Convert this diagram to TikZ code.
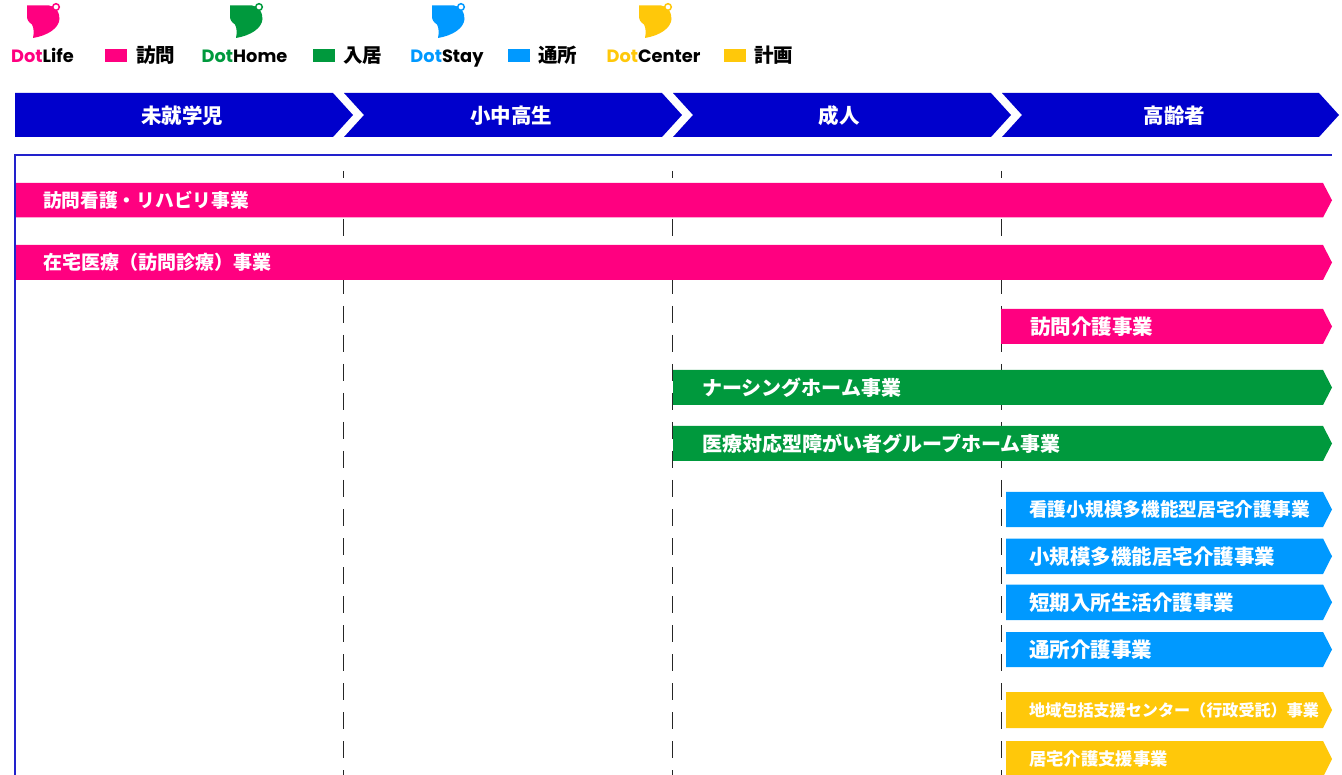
\documentclass[tikz,border=0pt]{standalone}
\usepackage{fontspec}
\setmainfont{Noto Sans CJK JP}
\newfontfamily\dotfont{Poppins}
\definecolor{pinkc}{HTML}{FF0080}
\definecolor{greenc}{HTML}{00993D}
\definecolor{bluec}{HTML}{0099FF}
\definecolor{yellowc}{HTML}{FFC80A}
\definecolor{navyc}{HTML}{0000CC}
\definecolor{boxc}{HTML}{2222CC}
\tikzset{
  bartext/.style={anchor=west, inner sep=0pt, text=white},
  headtext/.style={text=white, inner sep=0pt, font=\bfseries\fontsize{20.5}{20.5}\selectfont},
  guide/.style={draw=black!85, line width=1.3pt, dash pattern=on 17pt off 12pt, dash phase=10pt},
  legtext/.style={anchor=west, inner sep=0pt, font=\bfseries\fontsize{19.5}{19.5}\selectfont},
  wordmark/.style={anchor=base, inner sep=0pt, font=\dotfont\bfseries\fontsize{17.8}{17.8}\selectfont},
  boxline/.style={draw=boxc, line width=1.5pt},
}
\newcommand\svcbar[8]{% name, x0, ytop, ybot, colour, textx, size, text
  \fill[#5] (#2,#3) -- (1323,#3) -- (1332,{(#3+#4)/2}) -- (1323,#4) -- (#2,#4) -- cycle;
  \node[bartext, font=\bfseries\fontsize{#7}{#7}\selectfont] (#1) at (#6,{(#3+#4)/2}) {#8};
}
\newcommand\dotlogo[2]{% shift, colour
  \begin{scope}[shift={(#1,0)}]
    \fill[#2] (27,5.5) -- (49,5.5) .. controls (56,6) and (59.5,12) .. (59.5,19)
      .. controls (59,28) and (48,35.5) .. (33,38)
      .. controls (34,33) and (34,28) .. (32,24.5)
      .. controls (28.5,22) and (27,20) .. (27,16) -- cycle;
    \draw[#2, line width=1.5pt, fill=white] (56,7) circle (3.3);
  \end{scope}
}
\begin{document}
\begin{tikzpicture}[x=1pt,y=-1pt]
\useasboundingbox (0,0) rectangle (1342,775);
\fill[white] (0,0) rectangle (1342,775);

% legend
\dotlogo{0}{pinkc}
\dotlogo{203}{greenc}
\dotlogo{405}{bluec}
\dotlogo{612}{yellowc}
\node[wordmark] (wlife) at (42.5,63) {\textcolor{pinkc}{Dot}Life};
\node[wordmark] (whome) at (244.5,63) {\textcolor{greenc}{Dot}Home};
\node[wordmark] (wstay) at (447,63) {\textcolor{bluec}{Dot}Stay};
\node[wordmark] (wcenter) at (653.5,63) {\textcolor{yellowc}{Dot}Center};
\fill[pinkc] (105,49) rectangle (127,62.5);
\fill[greenc] (313,49) rectangle (335,62.5);
\fill[bluec] (508,49) rectangle (530,62.5);
\fill[yellowc] (724,49) rectangle (746,62.5);
\node[legtext] (l1) at (136,55.5) {訪問};
\node[legtext] (l2) at (343,55.5) {入居};
\node[legtext] (l3) at (538,55.5) {通所};
\node[legtext] (l4) at (754,55.5) {計画};

% header chevrons
\fill[navyc] (15,93) -- (333,93) -- (353,115) -- (333,137) -- (15,137) -- cycle;
\fill[navyc] (344,93) -- (662,93) -- (682,115) -- (662,137) -- (344,137) -- (364,115) -- cycle;
\fill[navyc] (673,93) -- (991,93) -- (1011,115) -- (991,137) -- (673,137) -- (693,115) -- cycle;
\fill[navyc] (1002,93) -- (1319,93) -- (1339,115) -- (1319,137) -- (1002,137) -- (1022,115) -- cycle;
\node[headtext] (h1) at (182,116) {未就学児};
\node[headtext] (h2) at (511,116) {小中高生};
\node[headtext] (h3) at (839,116) {成人};
\node[headtext] (h4) at (1174.5,116) {高齢者};

% guides
\draw[guide] (343.5,171) -- (343.5,775);
\draw[guide] (672.5,171) -- (672.5,775);
\draw[guide] (1001.5,171) -- (1001.5,775);

% bars
\svcbar{b1}{15}{183}{217.5}{pinkc}{43}{18.7}{訪問看護・リハビリ事業}
\svcbar{b2}{15}{245}{280}{pinkc}{43}{19}{在宅医療（訪問診療）事業}
\svcbar{b3}{1001}{309}{344}{pinkc}{1030}{20.5}{訪問介護事業}
\svcbar{b4}{673}{370}{405}{greenc}{702}{20}{ナーシングホーム事業}
\svcbar{b5}{673}{426}{461}{greenc}{702}{20}{医療対応型障がい者グループホーム事業}
\svcbar{b6}{1006}{492}{527}{bluec}{1029}{18.7}{看護小規模多機能型居宅介護事業}
\svcbar{b7}{1006}{538.5}{574}{bluec}{1029}{20.5}{小規模多機能居宅介護事業}
\svcbar{b8}{1006}{584.5}{620}{bluec}{1029}{20.5}{短期入所生活介護事業}
\svcbar{b9}{1006}{632}{667}{bluec}{1029}{20.5}{通所介護事業}
\svcbar{b10}{1006}{692}{728}{yellowc}{1029}{16.1}{地域包括支援センター（行政受託）事業}
\svcbar{b11}{1006}{741}{777}{yellowc}{1029}{17.3}{居宅介護支援事業}

% frame
\draw[boxline] (15,776) -- (15,155) -- (1332,155);
\end{tikzpicture}
\end{document}
